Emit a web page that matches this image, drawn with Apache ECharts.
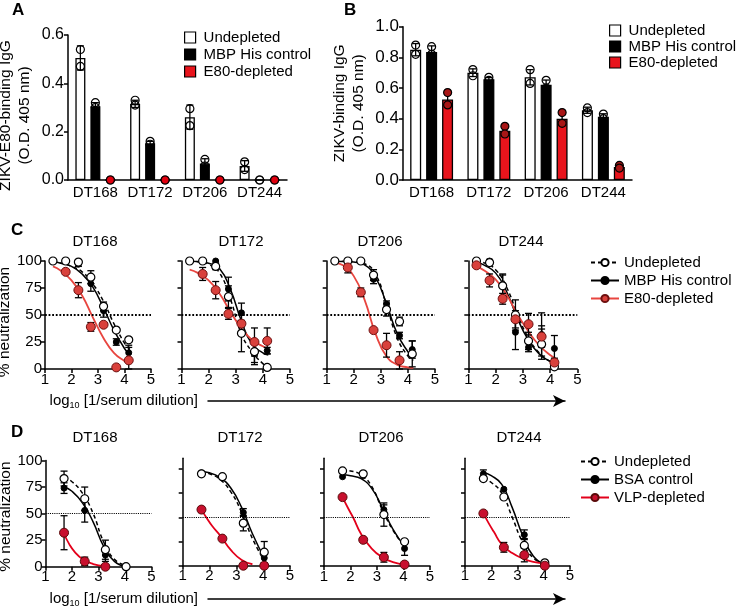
<!DOCTYPE html>
<html>
<head>
<meta charset="utf-8">
<script src="https://cdn.jsdelivr.net/npm/echarts@6/dist/echarts.min.js"></script>
<style>
html, body { margin: 0; padding: 0; background: #fff; }
#main { width: 738px; height: 608px; }
</style>
</head>
<body>
<div id="main"></div>
<script>
var FONT = '"Liberation Sans", Arial, Helvetica, sans-serif';

// ---- A / B : binding ELISA (bars = mean, dots = replicates) ----
var donors = ['DT168', 'DT172', 'DT206', 'DT244'];
var abNames = ['Undepleted', 'MBP His control', 'E80-depleted'];

var aUndep = [0.505, 0.315, 0.26, 0.058];
var aUndepErr = [0.05, 0.015, 0.05, 0.022];
var aUndepPts = [[0.54, 0.47], [0.33, 0.31], [0.295, 0.225], [0.075, 0.043]];
var aMbp = [0.305, 0.152, 0.068, 0];
var aMbpErr = [0.015, 0.008, 0.02, 0];
var aMbpPts = [[0.32, 0.30], [0.16, 0.148], [0.085, 0.058], [0, 0]];
var aE80 = [0, 0, 0, 0];
var aE80Err = [0, 0, 0, 0];
var aE80Pts = [[0, 0], [0, 0], [0, 0], [0, 0]];

var bUndep = [0.85, 0.70, 0.67, 0.455];
var bUndepErr = [0.04, 0.025, 0.05, 0.02];
var bUndepPts = [[0.88, 0.82], [0.72, 0.68], [0.72, 0.63], [0.47, 0.44]];
var bMbp = [0.835, 0.658, 0.622, 0.412];
var bMbpErr = [0.04, 0.01, 0.03, 0.02];
var bMbpPts = [[0.87, 0.82], [0.67, 0.65], [0.65, 0.60], [0.43, 0.40]];
var bE80 = [0.525, 0.322, 0.40, 0.085];
var bE80Err = [0.05, 0.03, 0.045, 0.012];
var bE80Pts = [[0.57, 0.49], [0.35, 0.30], [0.44, 0.37], [0.095, 0.078]];

// ---- C : neutralization after E80 depletion (rows: DT168, DT172, DT206, DT244) ----
var cNames = ['Undepleted', 'MBP His control', 'E80-depleted'];
var cDose = [1.3, 1.78, 2.26, 2.73, 3.21, 3.69, 4.16];
var cFitX = [1.3, 1.6, 2.0, 2.4, 2.8, 3.2, 3.6, 4.0, 4.2];
var cUndep = [
  [100, 100, 99, 85, 58, 36, 27],
  [100, 100, 95, 67, 33, 16, 1.5],
  [100, 100, 100, 87, 55, 44, 14],
  [100, 98.5, 77, 50, 26, 23, 2]
];
var cUndepErr = [
  [0, 0, 2, 6, 4, 2, 2],
  [0, 0, 3, 10, 17, 10, 0],
  [0, 0, 0, 5, 6, 4, 12],
  [0, 3, 10, 14, 8, 14, 3]
];
var cMbp = [
  [100, 100, 97, 79, 54, 25, 15],
  [100, 100, 100, 74, 52, 14, 17],
  [100, 100, 100, 83, 60, 31, 18],
  [100, 100, 78, 34, 20, 32, 19]
];
var cMbpErr = [
  [0, 0, 2, 7, 6, 3, 7],
  [0, 0, 0, 11, 9, 10, 3],
  [0, 0, 0, 4, 3, 3, 8],
  [0, 0, 10, 16, 4, 20, 12]
];
var cE80 = [
  [null, 90, 73, 39, 41, 1.5, 8],
  [null, 88, 73, 51, 42, 25, 26],
  [null, 94, 71, 36, 22, 8, null],
  [96, 82, 65, 46, 41.5, 30, 6]
];
var cE80Err = [
  [0, 2, 7, 4, 2, 0, 12],
  [0, 6, 8, 5, 3, 13, 12],
  [0, 5, 4, 2, 11, 8, 0],
  [2, 6, 5, 8, 10, 10, 4]
];
var cUndepFit = [
  [99, 98, 95, 90, 79, 63, 42, 24, 18],
  [99.8, 99.3, 97, 89, 65, 33, 16, 5, 2],
  [100, 99.8, 99.4, 97.5, 88, 60, 29, 12, 8],
  [100, 98, 92, 76, 51, 29, 15, 7, 5]
];
var cMbpFit = [
  [99, 98, 95, 88, 76, 57, 36, 19, 13],
  [99.8, 99.5, 98, 93, 74, 45, 23, 15, 13],
  [99.8, 99.6, 99, 96.5, 85, 61, 33, 16, 11],
  [99, 96, 89, 72, 47, 27, 14, 7, 5]
];
var cE80Fit = [
  [95, 91, 82, 68, 48, 29, 15, 7.5, 5],
  [92, 89, 82, 70, 53, 38, 27, 21, 19],
  [98, 96, 86, 64, 33, 12, 4, 1.5, 1],
  [95, 91, 83, 69, 51, 35, 22, 13, 10]
];

// ---- D : neutralization after VLP depletion ----
var dNames = ['Undepleted', 'BSA control', 'VLP-depleted'];
var dDose = [1.7, 2.48, 3.26, 4.04];
var dFitX = [1.7, 2.0, 2.4, 2.8, 3.2, 3.6, 4.04];
var dVlpFitX = [1.7, 1.9, 2.1, 2.4, 2.8, 3.2, 3.6, 4.04];
var dUndep = [[83, 64, 16, 0], [95, 92, 44, 14], [98, 95, 53, 25], [90, 71, 21, 3]];
var dUndepErr = [[7, 11, 9, 0], [1, 1, 8, 11], [0, 0, 12, 0], [2, 0, 7, 0]];
var dBsa = [[74, 53, 11, 0], [96, 92, 55, 8], [92, 93, 58, 18], [95, 79, 32, 0.7]];
var dBsaErr = [[5, 11, 6, 0], [0, 0, 4, 5], [0, 0, 5, 7], [4, 0, 5, 0]];
var dVlp = [[32, 5, 0, null], [58, 28, 0, 0], [71, 27, 9, 1.5], [54, 19, 11, 0]];
var dVlpErr = [[16, 4, 0, 0], [3, 1, 0, 0], [0, 0, 5, 0], [0, 5, 7, 0]];
var dUndepFit = [[84, 80, 69, 50, 23, 7, 1], [97, 95, 89, 76, 55, 28, 5], [99, 98, 94, 82, 58, 37, 20], [90, 86, 75, 50, 24, 8, 1.5]];
var dBsaFit = [[75, 71, 60, 42, 19, 5, 0], [97, 96, 91, 80, 60, 33, 8], [94, 93, 90, 80, 60, 38, 20], [96, 93, 84, 60, 31, 10, 1]];
var dVlpFit = [
  [31, 21, 14, 7, 2.5, 0.6, null, null],
  [58, 49, 41, 31, 16, 6, 1.5, null],
  [71, 60, 50, 33, 18, 9, 4, 1.5],
  [54, 44, 35, 22, 13, 7.5, 4, 2.5]
];

// ---------------------------------------------------------------
var myChart = echarts.init(document.getElementById('main'));

function strip(n) { return n.split('|')[1]; }
function zip(xs, ys) {
  var out = [];
  for (var i = 0; i < xs.length; i++) out.push([xs[i], ys[i]]);
  return out;
}
function ptsData(xs, ys) {
  var out = [];
  for (var i = 0; i < xs.length; i++) {
    if (ys[i] !== null) out.push([xs[i], ys[i]]);
  }
  return out;
}
function errData(xs, ys, es) {
  var out = [];
  for (var i = 0; i < xs.length; i++) {
    if (ys[i] !== null && es[i] > 0) out.push([xs[i], ys[i], es[i]]);
  }
  return out;
}

// error bar with caps, shifted dx pixels (for grouped bars)
function errRenderer(dx, cap) {
  return function (params, api) {
    var x = api.value(0), y = api.value(1), e = api.value(2);
    var hi = api.coord([x, y + e]);
    var lo = api.coord([x, Math.max(y - e, 0)]);
    var cx = hi[0] + dx;
    var st = { stroke: '#000', lineWidth: 1.3 };
    return {
      type: 'group',
      children: [
        { type: 'line', shape: { x1: cx, y1: hi[1], x2: cx, y2: lo[1] }, style: st },
        { type: 'line', shape: { x1: cx - cap, y1: hi[1], x2: cx + cap, y2: hi[1] }, style: st },
        { type: 'line', shape: { x1: cx - cap, y1: lo[1], x2: cx + cap, y2: lo[1] }, style: st }
      ]
    };
  };
}

var grids = [];
var xAxes = [];
var yAxes = [];
var series = [];
var axisLineStyle = { color: '#000', width: 1.5 };

// ---------- bar panels ----------
function addBarPanel(gi, tag, box, yMax, yLabelSize, yName, nameGap, namePad, barW, gap, offset, means, errs, pts, ptFill) {
  grids.push({ left: box[0], top: box[1], width: box[2], height: box[3], outerBoundsMode: 'none' });
  xAxes.push({
    gridIndex: gi, type: 'category', data: donors,
    axisLine: { show: true, lineStyle: axisLineStyle },
    axisTick: { show: false },
    axisLabel: { color: '#000', fontSize: 15, fontFamily: FONT, margin: 5, interval: 0 }
  });
  yAxes.push({
    gridIndex: gi, type: 'value', min: 0, max: yMax, interval: 0.2,
    axisLine: { show: true, lineStyle: axisLineStyle },
    axisTick: { show: true, length: 4, lineStyle: axisLineStyle },
    axisLabel: {
      color: '#000', fontSize: yLabelSize, fontFamily: FONT, margin: 4,
      formatter: function (v) { return v.toFixed(1); }
    },
    splitLine: { show: false },
    name: yName, nameLocation: 'middle', nameRotate: 90, nameGap: nameGap,
    nameTextStyle: { color: '#000', fontSize: 15.5, fontFamily: FONT, lineHeight: 19, padding: [0, namePad, 0, 0] }
  });
  var fills = ['#ffffff', '#000000', '#e8141c'];
  for (var g = 0; g < 3; g++) {
    series.push({
      type: 'bar', name: tag + '|' + abNames[g], xAxisIndex: gi, yAxisIndex: gi,
      data: means[g], barWidth: barW, barGap: gap, z: 2,
      itemStyle: { color: fills[g], borderColor: '#000', borderWidth: 1.3 }
    });
  }
  for (g = 0; g < 3; g++) {
    var dx = (g - 1) * offset;
    series.push({
      type: 'custom', xAxisIndex: gi, yAxisIndex: gi, z: 3, silent: true,
      renderItem: errRenderer(dx, 3.5),
      data: errData([0, 1, 2, 3], means[g], errs[g])
    });
    var pd = [];
    for (var i = 0; i < 4; i++) {
      for (var k = 0; k < pts[g][i].length; k++) pd.push([i, pts[g][i][k]]);
    }
    series.push({
      type: 'scatter', xAxisIndex: gi, yAxisIndex: gi, z: 4, silent: true,
      symbol: 'circle', symbolSize: 8, symbolOffset: [dx, 0], data: pd,
      itemStyle: { color: ptFill[g], borderColor: '#000', borderWidth: 1.2, opacity: 1 }
    });
  }
}

addBarPanel(0, 'A', [68, 35, 219, 145], 0.6, 16, 'ZIKV-E80-binding IgG\n(O.D. 405 nm)', 34, 16,
  10, '50%', 15, [aUndep, aMbp, aE80], [aUndepErr, aMbpErr, aE80Err], [aUndepPts, aMbpPts, aE80Pts],
  ['rgba(0,0,0,0)', 'rgba(0,0,0,0)', '#e0000f']);
addBarPanel(1, 'B', [403, 26.7, 229, 153.3], 1.0, 17, 'ZIKV-binding IgG\n(O.D. 405 nm)', 35, 0,
  11, '45%', 16, [bUndep, bMbp, bE80], [bUndepErr, bMbpErr, bE80Err], [bUndepPts, bMbpPts, bE80Pts],
  ['rgba(0,0,0,0)', 'rgba(0,0,0,0)', '#a81616']);

// ---------- curve panels ----------
var cBoxes = [[45, 261, 106, 108], [181.5, 261, 108.5, 108], [326.7, 261, 108.3, 108], [468.3, 261, 109, 108]];
var dBoxes = [[45.5, 460.5, 106, 106.2], [182.7, 458.3, 107.3, 107.4], [324, 458.3, 106, 107.7], [465, 458.3, 105, 107.4]];
var dMax = [100, 111, 111, 111];

function addCurvePanel(gi, tag, box, yMax, showLabels, namePad, names, fitXs, fits, dose, vals, errs, red, dotLine) {
  grids.push({ left: box[0], top: box[1], width: box[2], height: box[3], outerBoundsMode: 'none' });
  xAxes.push({
    gridIndex: gi, type: 'value', min: 1, max: 5, interval: 1,
    axisLine: { show: true, onZero: false, lineStyle: axisLineStyle },
    axisTick: { show: true, length: 4, lineStyle: axisLineStyle },
    axisLabel: { color: '#000', fontSize: 15, fontFamily: FONT, margin: 3 },
    splitLine: { show: false }
  });
  var ticks = [0, 25, 50, 75, 100];
  var ya = {
    gridIndex: gi, type: 'value', min: 0, max: yMax, interval: 25,
    axisLine: { show: true, onZero: false, lineStyle: axisLineStyle },
    axisTick: { show: true, length: 4, lineStyle: axisLineStyle, customValues: ticks },
    axisLabel: { show: showLabels, color: '#000', fontSize: 15, fontFamily: FONT, margin: 3, customValues: ticks },
    splitLine: { show: false }
  };
  if (showLabels) {
    ya.name = '% neutralization';
    ya.nameLocation = 'middle';
    ya.nameRotate = 90;
    ya.nameGap = 29;
    ya.nameTextStyle = { color: '#000', fontSize: 15.5, fontFamily: FONT, lineHeight: 15, padding: [0, namePad, 0, 0] };
  }
  yAxes.push(ya);

  var lineStyles = [
    { color: '#000', width: 1.5, type: [4, 3] },
    { color: '#000', width: 1.5 },
    { color: red.line, width: 1.8 }
  ];
  var marks = [
    { size: 8, color: '#ffffff', border: '#000', bw: 1.2, z: 5 },
    { size: 6, color: '#000000', border: '#000', bw: 1, z: 4 },
    { size: 9, color: red.fill, border: red.edge, bw: 1, z: 6 }
  ];
  for (var g = 0; g < 3; g++) {
    var s = {
      type: 'line', name: tag + '|' + names[g], xAxisIndex: gi, yAxisIndex: gi,
      data: zip(fitXs[g], fits[g]), smooth: 0.5,
      showSymbol: false, symbol: 'circle', silent: true, z: 2,
      lineStyle: lineStyles[g],
      itemStyle: { color: marks[g].color, borderColor: marks[g].border, borderWidth: marks[g].bw }
    };
    if (g === 0) {
      s.markLine = {
        silent: true, symbol: ['none', 'none'], label: { show: false },
        lineStyle: { color: '#000', type: 'dotted', width: dotLine },
        emphasis: { disabled: true },
        data: [{ yAxis: 50 }]
      };
    }
    series.push(s);
  }
  for (g = 0; g < 3; g++) {
    series.push({
      type: 'custom', xAxisIndex: gi, yAxisIndex: gi, z: 3, silent: true,
      renderItem: errRenderer(0, 3.5),
      data: errData(dose, vals[g], errs[g])
    });
    series.push({
      type: 'scatter', xAxisIndex: gi, yAxisIndex: gi, z: marks[g].z, silent: true,
      symbol: 'circle', symbolSize: marks[g].size, data: ptsData(dose, vals[g]),
      itemStyle: { color: marks[g].color, borderColor: marks[g].border, borderWidth: marks[g].bw, opacity: 1 }
    });
  }
}

var cRed = { line: '#e8453f', fill: '#d9413c', edge: '#6e1010' };
var dRed = { line: '#e3001b', fill: '#c8102e', edge: '#5a0a0a' };
for (var p = 0; p < 4; p++) {
  addCurvePanel(2 + p, 'C', cBoxes[p], 100, p === 0, 14, cNames,
    [cFitX, cFitX, cFitX], [cUndepFit[p], cMbpFit[p], cE80Fit[p]],
    cDose, [cUndep[p], cMbp[p], cE80[p]], [cUndepErr[p], cMbpErr[p], cE80Err[p]], cRed, 1.8);
}
for (p = 0; p < 4; p++) {
  addCurvePanel(6 + p, 'D', dBoxes[p], dMax[p], p === 0, 6, dNames,
    [dFitX, dFitX, dVlpFitX], [dUndepFit[p], dBsaFit[p], dVlpFit[p]],
    dDose, [dUndep[p], dBsa[p], dVlp[p]], [dUndepErr[p], dBsaErr[p], dVlpErr[p]], dRed, 1.1);
}

// ---------- shared x-axis captions with arrows ----------
function addArrowAxis(gi, y) {
  grids.push({ left: 208, top: y - 1, width: 357, height: 1, outerBoundsMode: 'none' });
  xAxes.push({
    gridIndex: gi, type: 'value', min: 0, max: 1, position: 'bottom',
    axisLine: { show: true, onZero: false, symbol: ['none', 'arrow'], symbolSize: [9, 12], lineStyle: axisLineStyle },
    axisTick: { show: false }, axisLabel: { show: false }, splitLine: { show: false },
    name: '{a|log}{s|10}{a| [1/serum dilution]}', nameLocation: 'start', nameGap: 10,
    nameTextStyle: {
      color: '#000', fontFamily: FONT,
      rich: {
        a: { fontSize: 15, fontFamily: FONT, color: '#000' },
        s: { fontSize: 9, fontFamily: FONT, color: '#000', padding: [9, 0, 0, 0] }
      }
    }
  });
  yAxes.push({ gridIndex: gi, type: 'value', show: false, min: 0, max: 1 });
}
addArrowAxis(10, 401);
addArrowAxis(11, 599);

// ---------- titles ----------
function letter(t, x, y) {
  return { text: t, left: x, top: y, padding: 0, textStyle: { fontSize: 17, fontWeight: 'bold', fontFamily: FONT, color: '#000' } };
}
function head(t, x, y) {
  return { text: t, left: x, top: y, padding: 0, textAlign: 'center', textStyle: { fontSize: 15, fontWeight: 'normal', fontFamily: FONT, color: '#000' } };
}
var titles = [letter('A', 12, 2), letter('B', 344, 2), letter('C', 11, 222), letter('D', 11, 424)];
var cHeadX = [95, 241, 380, 521];
var dHeadX = [95, 240, 381, 519];
for (p = 0; p < 4; p++) {
  titles.push(head(donors[p], cHeadX[p], 234));
  titles.push(head(donors[p], dHeadX[p], 430));
}

function prefixed(tag, names) {
  return names.map(function (n) { return tag + '|' + n; });
}
var legendText = { color: '#000', fontSize: 15, fontFamily: FONT };

var option = {
  animation: false,
  backgroundColor: '#fff',
  title: titles,
  legend: [
    {
      data: prefixed('A', abNames), orient: 'vertical', left: 184, top: 30, padding: 0,
      icon: 'rect', itemWidth: 11, itemHeight: 11, itemGap: 2, selectedMode: false,
      formatter: strip, itemStyle: { borderColor: '#000', borderWidth: 1.2 },
      textStyle: Object.assign({ padding: [0, 0, 0, 3] }, legendText)
    },
    {
      data: prefixed('B', abNames), orient: 'vertical', left: 609, top: 23, padding: 0,
      icon: 'rect', itemWidth: 11, itemHeight: 11, itemGap: 1, selectedMode: false,
      formatter: strip, itemStyle: { borderColor: '#000', borderWidth: 1.2 },
      textStyle: Object.assign({ padding: [0, 0, 0, 3] }, legendText)
    },
    {
      data: prefixed('C', cNames), orient: 'vertical', left: 590, top: 255, padding: 0,
      itemWidth: 28, itemHeight: 9, itemGap: 3, selectedMode: false,
      formatter: strip, textStyle: legendText
    },
    {
      data: prefixed('D', dNames), orient: 'vertical', left: 580, top: 454, padding: 0,
      itemWidth: 28, itemHeight: 9, itemGap: 3, selectedMode: false,
      formatter: strip, textStyle: legendText
    }
  ],
  grid: grids,
  xAxis: xAxes,
  yAxis: yAxes,
  series: series
};

if (option && typeof option === "object") {
  myChart.setOption(option, true);
}
</script>
</body>
</html>
